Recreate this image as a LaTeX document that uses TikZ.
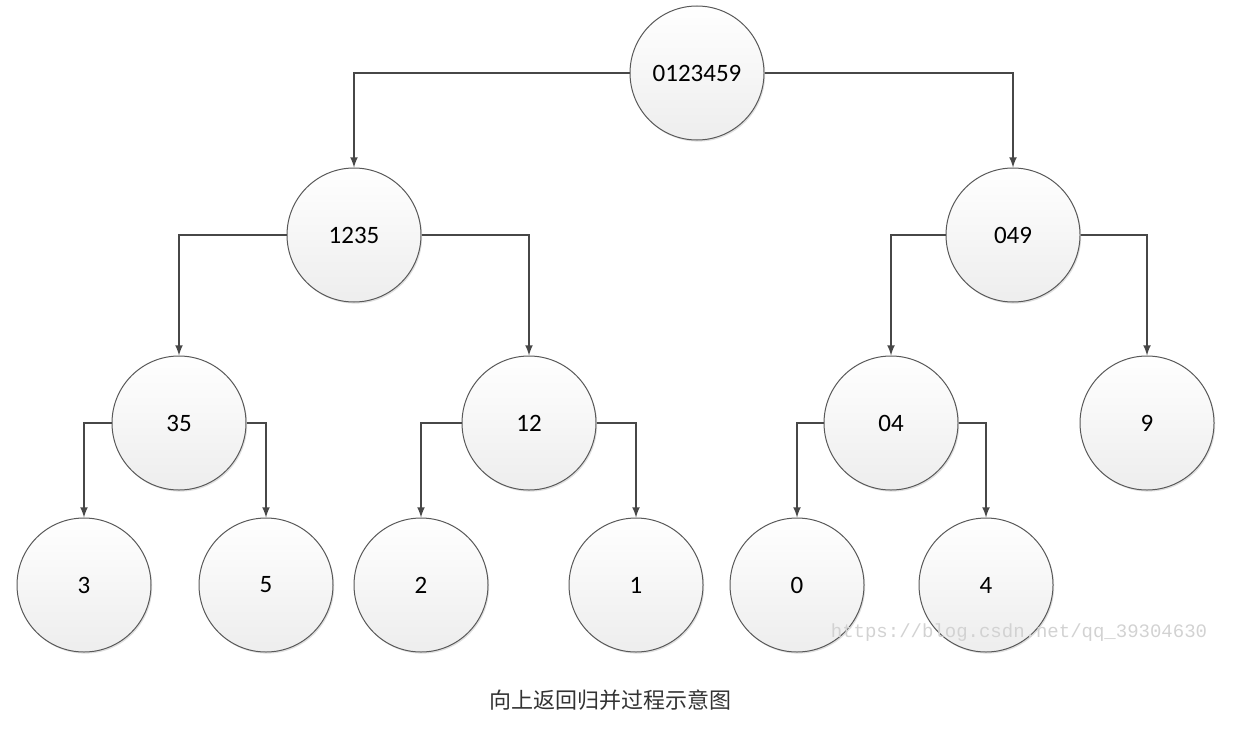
\documentclass[tikz,border=0pt]{standalone}
\usepackage{fontspec}
\setmainfont{Carlito}
\newfontfamily\cjk{Noto Sans CJK SC}
\newfontfamily\wmfont{Liberation Mono}
\usetikzlibrary{arrows,shadows}

\begin{document}
\begin{tikzpicture}[
            x=0.5pt, y=-0.5pt,
            every node/.style={font=\fontsize{12.5}{14}\selectfont},
            entity/.style={circle, draw=gray!70!black, line width=0.5pt, minimum size=67pt, inner sep=1pt,
                top color=white, bottom color=gray!14,
                drop shadow={shadow xshift=0.6pt, shadow yshift=-0.8pt, opacity=0.25}},
            arrow/.style={->, >=latex, line width=0.75pt, draw=black!72},
            lbl/.style={font=\cjk\fontsize{11}{13}\selectfont, text=black!80}
        ]
        \useasboundingbox (0,0) rectangle (1256,733);

        % Nodes — one row per level
        \node[entity] (root) at (697,73) {0123459};

        \node[entity] (n1235) at (354,235) {1235};
        \node[entity] (n049) at (1013,235) {049};

        \node[entity] (n35) at (179,423) {35};
        \node[entity] (n12) at (529,423) {12};
        \node[entity] (n04) at (891,423) {04};
        \node[entity] (n9) at (1147,423) {9};

        \node[entity] (n3) at (84,585) {3};
        \node[entity] (n5) at (266,585) {5};
        \node[entity] (n2) at (421,585) {2};
        \node[entity] (n1) at (636,585) {1};
        \node[entity] (n0) at (797,585) {0};
        \node[entity] (n4) at (986,585) {4};

        % watermark and caption
        \node[font=\wmfont\fontsize{9.5}{11}\selectfont, text=gray!35] (mark) at (1019,633) {https://blog.csdn.net/qq\_39304630};
        \node[lbl] (caption) at (610,700) {向上返回归并过程示意图};

        % === EDGES ===

        % 0123459 -> 1235, 049
        \draw[arrow] (root.west) -| (n1235.north);
        \draw[arrow] (root.east) -| (n049.north);

        % 1235 -> 35, 12
        \draw[arrow] (n1235.west) -| (n35.north);
        \draw[arrow] (n1235.east) -| (n12.north);

        % 049 -> 04, 9
        \draw[arrow] (n049.west) -| (n04.north);
        \draw[arrow] (n049.east) -| (n9.north);

        % 35 -> 3, 5
        \draw[arrow] (n35.west) -| (n3.north);
        \draw[arrow] (n35.east) -| (n5.north);

        % 12 -> 2, 1
        \draw[arrow] (n12.west) -| (n2.north);
        \draw[arrow] (n12.east) -| (n1.north);

        % 04 -> 0, 4
        \draw[arrow] (n04.west) -| (n0.north);
        \draw[arrow] (n04.east) -| (n4.north);

    \end{tikzpicture}
\end{document}
